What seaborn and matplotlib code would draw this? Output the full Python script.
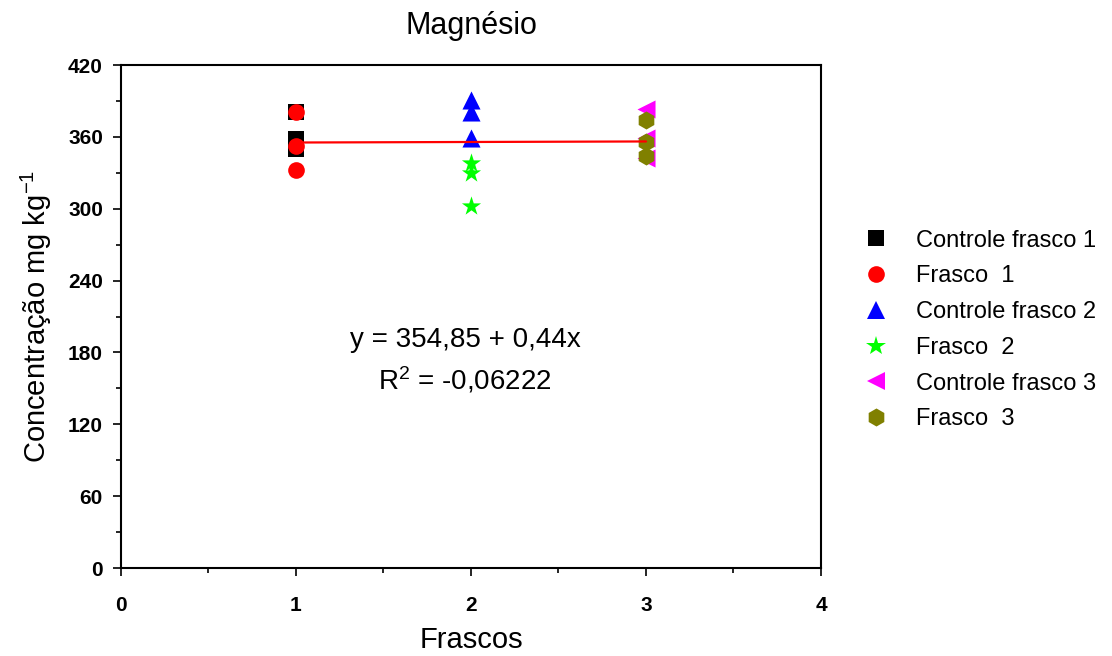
import numpy as np
import pandas as pd
import matplotlib
matplotlib.use("Agg")
import matplotlib.pyplot as plt
from matplotlib.lines import Line2D
import seaborn as sns

sns.set_theme(style="white")
plt.rcParams["font.family"] = ["Liberation Sans", "DejaVu Sans"]
plt.rcParams["mathtext.fontset"] = "custom"
plt.rcParams["mathtext.rm"] = "Liberation Sans"
plt.rcParams["mathtext.it"] = "Liberation Sans"
plt.rcParams["text.color"] = "black"
plt.rcParams["axes.labelcolor"] = "black"
plt.rcParams["xtick.color"] = "black"
plt.rcParams["ytick.color"] = "black"

# Magnesium concentration per flask (three replicates each)
series = ["Controle frasco 1", "Frasco  1", "Controle frasco 2",
          "Frasco  2", "Controle frasco 3", "Frasco  3"]
flask_x = [1, 1, 2, 2, 3, 3]
controle_frasco_1 = [381, 358, 350]
frasco_1 = [381, 352, 332]
controle_frasco_2 = [391, 381, 359]
frasco_2 = [338, 330, 302]
controle_frasco_3 = [383, 359, 342]
frasco_3 = [374, 356, 344]
values = [controle_frasco_1, frasco_1, controle_frasco_2,
          frasco_2, controle_frasco_3, frasco_3]

# Linear fit reported on the chart
intercept = 354.85
slope = 0.44
r2_text = "-0,06222"
fit_x = [1, 3]

colors = ["#000000", "#FF0000", "#0000FF", "#00FF00", "#FF00FF", "#808000"]
markers = ["s", "o", "^", "*", "<", "h"]
msizes = [11.5, 12, 13, 14.5, 13, 13]

rows = []
for name, xv, vals in zip(series, flask_x, values):
    for v in vals:
        rows.append({"serie": name, "frasco": xv, "conc": v})
df = pd.DataFrame(rows)

fig = plt.figure(figsize=(11.12, 6.56), dpi=100)
ax = fig.add_axes([0.1088, 0.1341, 0.6295, 0.7668])

for name, c, m, ms in zip(series, colors, markers, msizes):
    sub = df[df["serie"] == name]
    sns.scatterplot(data=sub, x="frasco", y="conc", color=c, marker=m,
                    s=ms ** 2, linewidth=0, ax=ax, legend=False, zorder=3)

fit_df = pd.DataFrame({"x": fit_x,
                       "y": [intercept + slope * xv for xv in fit_x]})
sns.lineplot(data=fit_df, x="x", y="y", color="#FF0000", linewidth=1.6,
             ax=ax, zorder=4)

ax.set_xlim(0, 4)
ax.set_ylim(0, 420)
ax.set_xticks([0, 1, 2, 3, 4])
ax.set_xticks([0.5, 1.5, 2.5, 3.5], minor=True)
ax.set_yticks(np.arange(0, 421, 60))
ax.set_yticks(np.arange(30, 420, 60), minor=True)
ax.tick_params(axis="both", which="major", direction="out", length=6,
               width=1.2, labelsize=15, color="black", labelcolor="black",
               bottom=True, left=True)
ax.tick_params(axis="x", which="major", pad=14)
ax.tick_params(axis="y", which="major", pad=7)
ax.tick_params(axis="both", which="minor", direction="out", length=3.5,
               width=1.2, bottom=True, left=True, color="black")
for lab in ax.get_xticklabels() + ax.get_yticklabels():
    lab.set_fontweight("bold")
for sp in ax.spines.values():
    sp.set_color("black")
    sp.set_linewidth(1.5)

ax.set_xlabel("Frascos", fontsize=21, labelpad=8, color="black")
ax.set_ylabel("Concentração mg kg$^{-1}$", fontsize=21, labelpad=10,
              color="black")
ax.set_title("Magnésio", fontsize=22, pad=22, color="black")

ax.text(1.966, 190, f"y = {intercept:.2f}".replace(".", ",") +
        f" + {slope:.2f}x".replace(".", ","),
        ha="center", va="center", fontsize=20, color="black")
ax.text(1.966, 157, "R$^2$ = " + r2_text, ha="center", va="center",
        fontsize=20, color="black")

handles = [Line2D([], [], linestyle="none", marker=m, color=c,
                  markersize=ms, markeredgewidth=0)
           for c, m, ms in zip(colors, markers, msizes)]
fig.legend(handles, series, loc="center left",
           bbox_to_anchor=(0.777, 0.497), frameon=False, fontsize=17,
           handlelength=1.0, handletextpad=1.2, labelspacing=0.58,
           borderpad=0, borderaxespad=0, labelcolor="black")

fig.savefig("out.png", dpi=100)
